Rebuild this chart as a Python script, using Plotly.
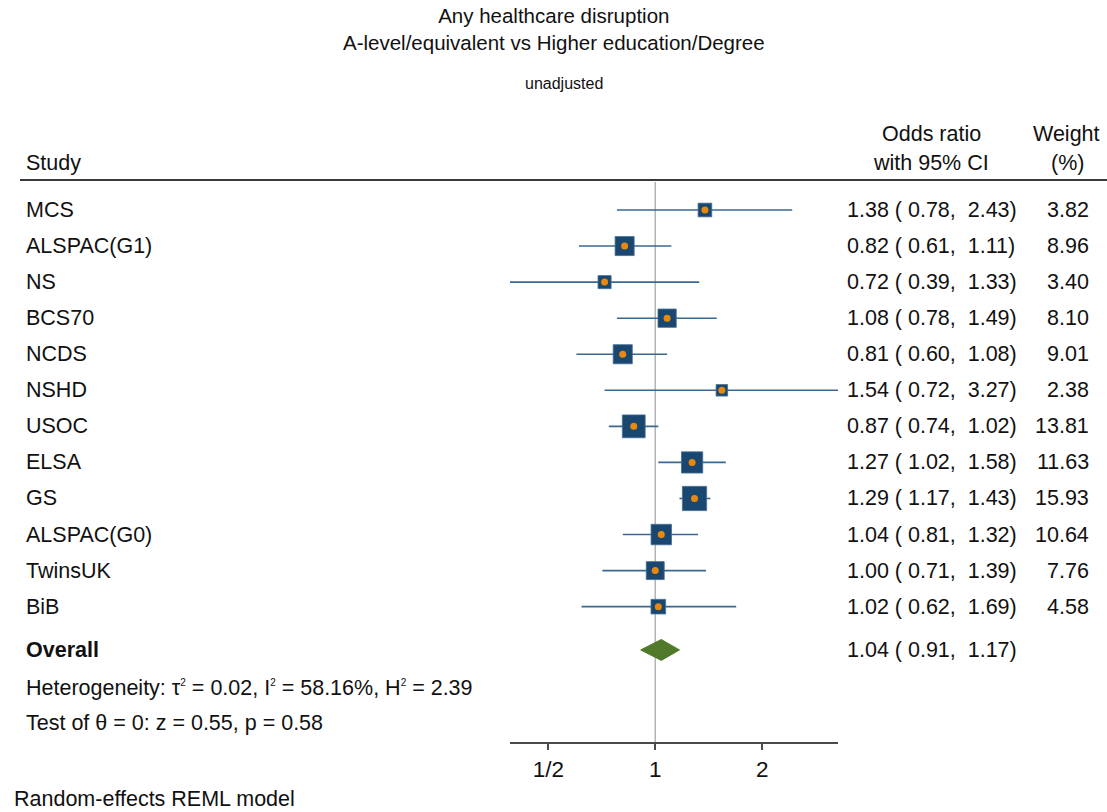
import math
import plotly.graph_objects as go

studies = ["MCS", "ALSPAC(G1)", "NS", "BCS70", "NCDS", "NSHD", "USOC", "ELSA", "GS",
           "ALSPAC(G0)", "TwinsUK", "BiB"]
odds = [1.38, 0.82, 0.72, 1.08, 0.81, 1.54, 0.87, 1.27, 1.29, 1.04, 1.00, 1.02]
lower = [0.78, 0.61, 0.39, 0.78, 0.60, 0.72, 0.74, 1.02, 1.17, 0.81, 0.71, 0.62]
upper = [2.43, 1.11, 1.33, 1.49, 1.08, 3.27, 1.02, 1.58, 1.43, 1.32, 1.39, 1.69]
weights = [3.82, 8.96, 3.40, 8.10, 9.01, 2.38, 13.81, 11.63, 15.93, 10.64, 7.76, 4.58]

overall_or = 1.04
overall_lo = 0.91
overall_hi = 1.17

tick_vals = [0.5, 1, 2]
tick_text = ["1/2", "1", "2"]

W, H = 1107, 812
FONT = "Liberation Sans, Arial, sans-serif"
BODY = 21.5
NAVY = "#1a476f"
CI_COL = "#3b6890"
ORANGE = "#e8890f"
GREEN = "#507a29"

ROW0_PX, ROW_STEP = 210, 36.06
TOP_PX, BOT_PX = 180, 742
n = len(studies)
rows = list(range(n))
overall_row = 12.2
het_row = 13.25
test_row = 14.22


def ypaper(px):
    return (H - px) / H


fig = go.Figure()

# CI lines
for i in rows:
    fig.add_trace(go.Scatter(x=[lower[i], upper[i]], y=[i, i], mode="lines",
                             line=dict(color=CI_COL, width=1.6), hoverinfo="skip",
                             showlegend=False))

# weight boxes
sizes = [3.5 + 5.2 * math.sqrt(w) for w in weights]
fig.add_trace(go.Scatter(x=odds, y=rows, mode="markers",
                         marker=dict(symbol="square", size=sizes, color=NAVY, opacity=1,
                                     line=dict(color="rgba(70,110,150,0.8)", width=1)),
                         showlegend=False))
# point estimates
fig.add_trace(go.Scatter(x=odds, y=rows, mode="markers",
                         marker=dict(symbol="circle", size=7, color=ORANGE, opacity=1,
                                     line=dict(width=0)),
                         showlegend=False))

# overall diamond
dh = 0.29
fig.add_trace(go.Scatter(x=[overall_lo, overall_or, overall_hi, overall_or, overall_lo],
                         y=[overall_row, overall_row - dh, overall_row, overall_row + dh, overall_row],
                         mode="lines", fill="toself", fillcolor=GREEN,
                         line=dict(color=GREEN, width=1), showlegend=False))

# null line
fig.add_shape(type="line", xref="x", yref="paper", x0=1, x1=1,
              y0=ypaper(BOT_PX), y1=ypaper(TOP_PX + 2),
              line=dict(color="#b4b4b4", width=1.5), layer="below")
# header rule
fig.add_shape(type="line", xref="paper", yref="paper", x0=20 / W, x1=1,
              y0=ypaper(TOP_PX), y1=ypaper(TOP_PX), line=dict(color="#3a3a3a", width=2))

ann = []


def txt(x_px, y_px, s, size=BODY, xanchor="left", bold=False, color="#111111", align="left"):
    if bold:
        s = "<b>" + s + "</b>"
    ann.append(dict(x=x_px / W, y=ypaper(y_px), xref="paper", yref="paper", text=s,
                    showarrow=False, xanchor=xanchor, yanchor="middle", align=align,
                    font=dict(family=FONT, size=size, color=color)))


NB = "\u00a0"
for i in rows:
    ypx = ROW0_PX + ROW_STEP * i
    txt(24, ypx, studies[i])
    s = f"{odds[i]:.2f}{NB}({NB}{lower[i]:.2f},{NB}{NB}{upper[i]:.2f})"
    txt(845, ypx, s)
    txt(1091, ypx, f"{weights[i]:.2f}", xanchor="right")

ov_px = ROW0_PX + ROW_STEP * overall_row
txt(24, ov_px, "Overall", bold=True)
txt(845, ov_px, f"{overall_or:.2f}{NB}({NB}{overall_lo:.2f},{NB}{NB}{overall_hi:.2f})")
SUP2 = "<sup><span style='font-size:10px'>2</span></sup>"
txt(24, ROW0_PX + ROW_STEP * het_row,
    f"Heterogeneity: τ{SUP2} = 0.02, I{SUP2} = 58.16%, H{SUP2} = 2.39")
txt(24, ROW0_PX + ROW_STEP * test_row, "Test of θ = 0: z = 0.55, p = 0.58")

# headers
txt(24, 163, "Study")
txt(931, 134, "Odds ratio", xanchor="center")
txt(931, 163, "with 95% CI", xanchor="center")
txt(1066, 134, "Weight", xanchor="center")
txt(1067, 163, "(%)", xanchor="center")

# titles
txt(554, 29.5, "Any healthcare disruption<br>A-level/equivalent vs Higher education/Degree",
    size=20.5, xanchor="center", align="center")
txt(564, 84, "unadjusted", size=16, xanchor="center")
txt(12, 799, "Random-effects REML model")

fig.update_layout(
    width=W, height=H, margin=dict(l=0, r=0, t=0, b=0),
    paper_bgcolor="white", plot_bgcolor="white",
    annotations=ann, showlegend=False,
    font=dict(family=FONT, size=BODY, color="#111111"),
    xaxis=dict(type="log", range=[math.log10(min(lower)), math.log10(max(upper))],
               domain=[510 / W, 838 / W], showgrid=False, zeroline=False,
               showline=True, linecolor="#4a4a4a", linewidth=1.5,
               ticks="outside", ticklen=6, tickwidth=1.5, tickcolor="#4a4a4a",
               tickvals=tick_vals, ticktext=tick_text,
               tickfont=dict(family=FONT, size=22.5, color="#111111"),
               anchor="y", fixedrange=True),
    yaxis=dict(range=[(BOT_PX - ROW0_PX) / ROW_STEP, (TOP_PX - ROW0_PX) / ROW_STEP],
               domain=[ypaper(BOT_PX), ypaper(TOP_PX)], showgrid=False, zeroline=False,
               showline=False, showticklabels=False, ticks="", fixedrange=True),
)

fig.write_html("out.html", config={"displayModeBar": False},
               post_script="document.body.style.margin='0';document.body.style.overflow='hidden';")
